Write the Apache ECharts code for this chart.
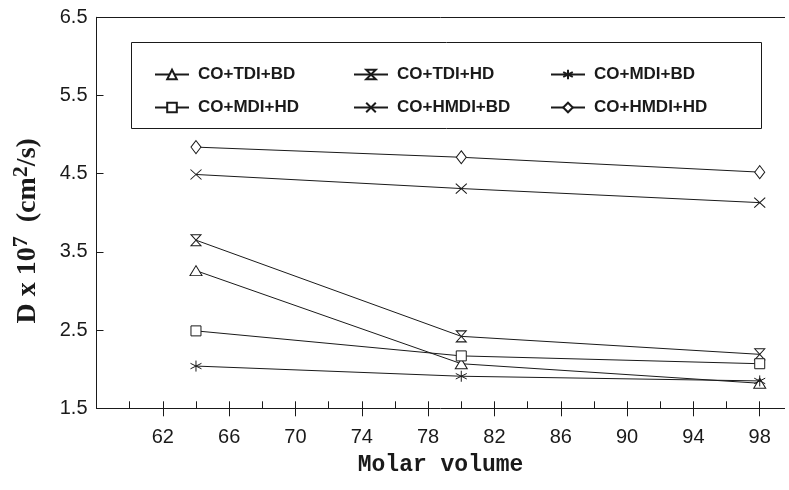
<!DOCTYPE html>
<html>
<head>
<meta charset="utf-8">
<script src="https://cdn.jsdelivr.net/npm/echarts@6/dist/echarts.min.js"></script>
<style>
  html, body { margin: 0; padding: 0; background: #fff; }
  #main { width: 789px; height: 490px; }
</style>
</head>
<body>
<div id="main"></div>
<script>
const molarVolume = [64, 80, 98];
const seriesNames = [
  "CO+TDI+BD", "CO+TDI+HD", "CO+MDI+BD",
  "CO+MDI+HD", "CO+HMDI+BD", "CO+HMDI+HD"
];
const tdiBd = [3.26, 2.07, 1.82];
const tdiHd = [3.65, 2.42, 2.19];
const mdiBd = [2.04, 1.91, 1.85];
const mdiHd = [2.49, 2.17, 2.07];
const hmdiBd = [4.49, 4.31, 4.13];
const hmdiHd = [4.84, 4.71, 4.52];
const xMajorTicks = [62, 66, 70, 74, 78, 82, 86, 90, 94, 98];
const xAllTicks = [60, 62, 64, 66, 68, 70, 72, 74, 76, 78, 80, 82, 84, 86, 88, 90, 92, 94, 96, 98];

const ink = "#1a1a1a";

// hollow marker shapes
const symbols = [
  "path://M5,0 L10,9 L0,9 Z",                          // triangle
  "path://M0,0 L10,0 L0,11 L10,11 Z",                   // hourglass
  "path://M5,0 L5,11 M0,2.75 L10,8.25 M0,8.25 L10,2.75", // asterisk
  "rect",                                               // square
  "path://M0,0 L10,10 M10,0 L0,10",                     // cross
  "path://M5,0 L10,7 L5,14 L0,7 Z"                      // diamond
];
const symbolSizes = [[12, 10], [10, 11], [11, 11], [10, 10], [11, 10], [10, 13]];
const allValues = [tdiBd, tdiHd, mdiBd, mdiHd, hmdiBd, hmdiHd];

function pairs(vals) {
  return molarVolume.map((x, i) => [x, vals[i]]);
}

const series = allValues.map((vals, k) => ({
  name: seriesNames[k],
  type: "line",
  data: pairs(vals),
  symbol: symbols[k],
  symbolSize: symbolSizes[k],
  showAllSymbol: true,
  lineStyle: { color: ink, width: 1 },
  itemStyle: { color: "#fff", borderColor: ink, borderWidth: 1 },
  emphasis: { disabled: true },
  z: 3
}));

function legendColumn(left, names) {
  return {
    orient: "vertical",
    left: left,
    top: 61,
    itemGap: 16,
    itemWidth: 34,
    itemHeight: 12,
    data: names,
    selectedMode: false,
    textStyle: {
      fontFamily: "Liberation Sans, Arial, sans-serif",
      fontSize: 17,
      fontWeight: "bold",
      color: ink,
      padding: [0, 0, 0, 4]
    }
  };
}

var myChart = echarts.init(document.getElementById("main"), null, { renderer: "canvas" });

const serif = "Liberation Serif, Times New Roman, serif";

const options = {
  animation: false,
  backgroundColor: "#fff",
  grid: { left: 96.5, top: 17.3, right: 4.4, bottom: 81.7, containLabel: false },
  xAxis: [
    {
      type: "value",
      min: 58,
      max: 99.5,
      position: "bottom",
      name: "Molar volume",
      nameLocation: "middle",
      nameGap: 45,
      nameTextStyle: {
        fontFamily: "Liberation Mono, DejaVu Sans Mono, monospace",
        fontSize: 23,
        fontWeight: "bold",
        color: ink
      },
      axisLine: { lineStyle: { color: ink, width: 1 } },
      axisTick: { show: true, inside: false, length: 8, customValues: xMajorTicks, lineStyle: { color: ink } },
      axisLabel: {
        customValues: xMajorTicks,
        margin: 19,
        fontFamily: "Liberation Sans, Arial, sans-serif",
        fontSize: 20,
        color: ink
      },
      splitLine: { show: false }
    },
    {
      type: "value",
      min: 58,
      max: 99.5,
      position: "bottom",
      axisLine: { show: false },
      axisTick: { show: true, inside: true, length: 7, customValues: xAllTicks, lineStyle: { color: ink } },
      axisLabel: { show: false },
      splitLine: { show: false }
    },
    {
      type: "value",
      min: 58,
      max: 99.5,
      position: "top",
      axisLine: { show: true, lineStyle: { color: ink, width: 1 } },
      axisTick: { show: false },
      axisLabel: { show: false },
      splitLine: { show: false }
    }
  ],
  yAxis: {
    type: "value",
    min: 1.5,
    max: 6.5,
    interval: 1,
    name: "{b|D x 10}{s|7}{b|  (cm}{s|2}{b|/s)}{e|}",
    nameLocation: "middle",
    nameRotate: 90,
    nameGap: 52,
    nameTextStyle: {
      rich: {
        b: { fontFamily: serif, fontWeight: "bold", fontSize: 28, color: ink },
        s: { fontFamily: serif, fontWeight: "bold", fontSize: 22, color: ink, verticalAlign: "top", padding: [0, 0, 12, 0] },
        e: { width: 36 }
      }
    },
    axisLine: { show: true, lineStyle: { color: ink, width: 1 } },
    axisTick: { show: true, inside: true, length: 7, lineStyle: { color: ink } },
    axisLabel: {
      margin: 9,
      fontFamily: "Liberation Sans, Arial, sans-serif",
      fontSize: 20,
      color: ink,
      formatter: (v) => v.toFixed(1)
    },
    splitLine: { show: false }
  },
  legend: [
    legendColumn(149, [seriesNames[0], seriesNames[3]]),
    legendColumn(348, [seriesNames[1], seriesNames[4]]),
    legendColumn(545, [seriesNames[2], seriesNames[5]])
  ],
  graphic: [
    {
      type: "rect",
      shape: { x: 131.5, y: 42.5, width: 630, height: 86 },
      style: { fill: "none", stroke: ink, lineWidth: 1 },
      z: 1
    }
  ],
  series: series
};

myChart.setOption(options);
window.onresize = function() {
  myChart.resize();
};
</script>
</body>
</html>
